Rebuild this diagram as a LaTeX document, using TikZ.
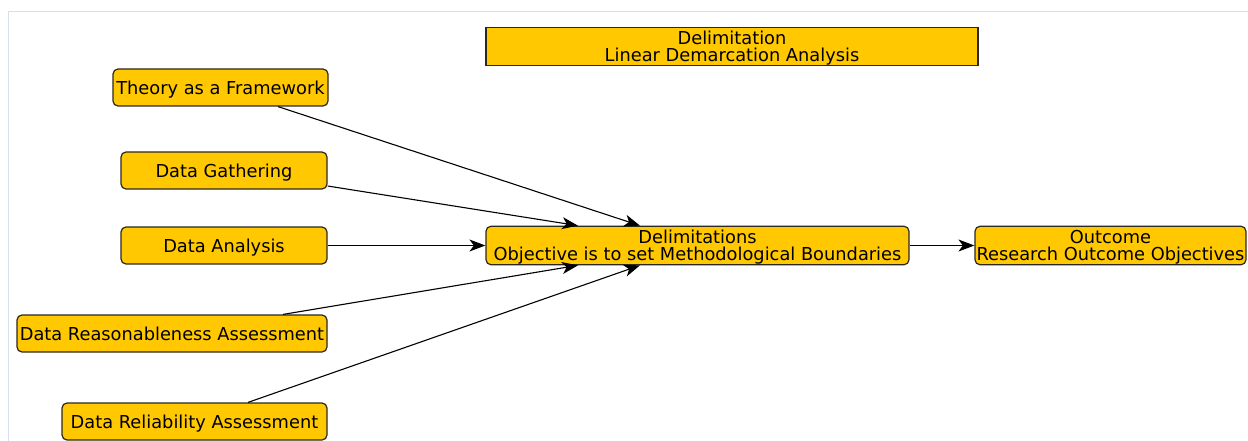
\documentclass[tikz,border=0pt]{standalone}
\usepackage{fontspec}
\setmainfont{DejaVu Sans}
\usetikzlibrary{arrows.meta}
\definecolor{boxfill}{RGB}{255,200,0}
\definecolor{boxline}{RGB}{45,40,30}
\definecolor{frameline}{RGB}{215,222,240}
\begin{document}
\begin{tikzpicture}[x=1pt,y=-1pt,
  every node/.style={font=\fontsize{17.8}{17}\selectfont},
  stage/.style={draw=boxline,line width=1.2pt,fill=boxfill,rounded corners=5pt,
    minimum height=37pt,inner sep=0pt,align=center},
  oneline/.style={stage,text height=17.5pt,text depth=4pt},
  twoline/.style={stage,text height=34.5pt,text depth=4pt},
  banner/.style={twoline,rounded corners=0pt},
  arr/.style={draw=black,line width=1.1pt,-{Stealth[length=16pt,width=12pt,inset=4.5pt]}}]
\useasboundingbox (0,0) rectangle (1248,441);
% panel frame
\draw[frameline,line width=1.5pt] (8.5,441) -- (8.5,11.5) -- (1248,11.5);
% nodes
\node[banner,minimum width=492pt] (title) at (732,46.5) {Delimitation\\Linear Demarcation Analysis};
\node[oneline,minimum width=215pt] (theory) at (220.5,87.5) {Theory as a Framework};
\node[oneline,minimum width=206pt] (gather) at (224,170.5) {Data Gathering};
\node[oneline,minimum width=206pt] (analysis) at (224,245.5) {Data Analysis};
\node[twoline,minimum width=423pt] (delim) at (697.5,245.5) {Delimitations\\Objective is to set Methodological Boundaries};
\node[twoline,minimum width=271pt] (outcome) at (1110.5,245.5) {Outcome\\Research Outcome Objectives};
\node[oneline,minimum width=310pt] (reason) at (172,333.5) {Data Reasonableness Assessment};
\node[oneline,minimum width=265pt] (reliab) at (194.5,421.5) {Data Reliability Assessment};
% connectors
\draw[arr] ([xshift=57.5pt]theory.south) -- ([xshift=-57.5pt]delim.north);
\draw[arr] ([yshift=-15.5pt]gather.east) -- ([xshift=-119.5pt]delim.north);
\draw[arr] (analysis.east) -- (delim.west);
\draw[arr] ([xshift=111pt]reason.north) -- ([xshift=-119.5pt]delim.south);
\draw[arr] ([xshift=53.5pt]reliab.north) -- ([xshift=-57.5pt]delim.south);
\draw[arr] (delim.east) -- (outcome.west);
\end{tikzpicture}
\end{document}
